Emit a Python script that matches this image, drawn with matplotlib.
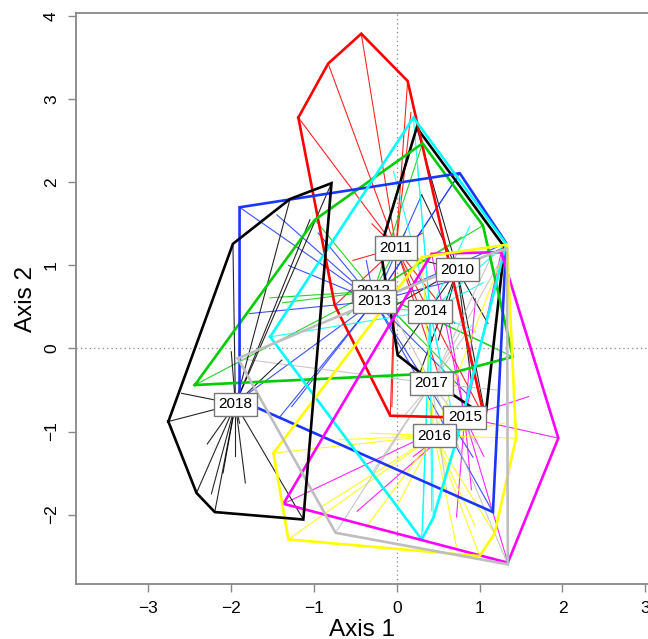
import numpy as np
import matplotlib
matplotlib.use("Agg")
import matplotlib.pyplot as plt

plt.rcParams['font.family'] = ['Liberation Sans', 'DejaVu Sans']

# class labels, colours and centroid (label) positions
years = ["2010", "2011", "2012", "2013", "2014", "2015", "2016", "2017", "2018"]
colors = ["black", "#FF0000", "#00CD00", "#1A35FF", "#00FFFF", "#FF00FF", "#FFFF00", "#BEBEBE", "black"]
cent_x = [0.73, -0.01, -0.28, -0.27, 0.40, 0.82, 0.45, 0.42, -1.95]
cent_y = [0.95, 1.21, 0.69, 0.57, 0.45, -0.83, -1.05, -0.42, -0.67]

# site scores per year (x, y)
pts_2010 = [(0.24, 2.66), (-0.2, 1.2), (0.01, -0.08), (0.28, -0.29), (1.07, -0.82), (1.30, 1.22),
            (0.30, 1.85), (-0.05, 0.5), (0.9, -0.4), (1.1, 0.3), (0.5, 0.1)]
pts_2011 = [(-1.19, 2.78), (-0.75, 0.52), (-0.08, -0.81), (1.06, -0.84), (0.13, 3.22), (-0.43, 3.79),
            (-0.83, 3.43), (0.17, 2.84), (-0.53, 1.06), (0.43, 0.10), (0.31, 1.39), (-0.06, -0.70),
            (0.5, -0.3), (0.7, 0.3), (-0.3, 1.5)]
pts_2012 = [(-2.44, -0.44), (0.31, 2.47), (1.04, 1.48), (1.40, -0.10), (0.68, -0.29),
            (-1.53, 0.61), (-1.38, 0.55), (-0.99, 1.55), (1.16, 0.02), (0.78, 1.34), (0.1, 1.4),
            (-0.6, 0.4), (0.2, 0.2)]
pts_2013 = [(-1.90, 1.70), (0.76, 2.11), (1.32, 1.27), (1.16, -1.97), (-1.90, -0.62),
            (-1.45, 1.61), (-1.78, 0.42), (-1.31, 1.0), (-0.95, 1.39), (-1.41, -0.82), (-1.27, -0.70),
            (0.30, 1.85), (0.72, 2.05), (0.92, -1.31), (-0.37, 1.06), (0.84, -0.54), (1.0, 0.9)]
pts_2014 = [(-1.53, 0.14), (0.20, 2.78), (1.32, 1.26), (0.95, 0.2), (0.73, -1.07), (0.44, -2.04),
            (0.30, -2.30), (-0.04, 2.13), (0.88, 1.47), (1.04, 0.79), (0.31, -2.19), (0.42, -1.95),
            (-0.5, 0.5), (0.6, -0.5), (0.25, 2.2)]
pts_2015 = [(-1.37, -1.87), (0.42, 1.14), (1.26, 1.16), (1.95, -1.08), (1.34, -2.58),
            (1.59, -0.58), (-0.48, -1.96), (0.72, -2.03), (0.90, -1.70), (1.05, -1.3), (0.6, 0.5),
            (0.95, 0.6), (0.2, -1.3)]
pts_2016 = [(-1.49, -1.26), (0.30, 1.10), (1.33, 1.25), (1.44, -1.08), (1.18, -2.23), (1.00, -2.50),
            (-1.31, -2.30), (-0.31, -1.02), (-0.37, -2.15), (0.72, -2.39), (0.94, -2.13),
            (-0.9, -1.9), (0.0, -1.9), (1.3, -0.9), (0.3, -0.2), (-0.7, -1.1)]
pts_2017 = [(-1.92, -0.12), (-0.15, 0.62), (1.33, 1.20), (1.34, -2.60), (-0.74, -2.22),
            (0.99, -1.18), (1.16, 1.15), (0.92, 0.3), (0.1, -0.8), (-0.3, -1.5), (0.6, -1.7), (1.2, -0.5)]
pts_2018 = [(-0.79, 1.99), (-1.29, 1.80), (-1.98, 1.26), (-2.76, -0.88), (-2.42, -1.74), (-2.20, -1.97),
            (-1.13, -2.06), (-2.0, -0.04), (-1.39, -0.14), (-2.60, -0.54), (-2.29, -1.15),
            (-2.24, -1.75), (-1.83, -1.62), (-1.90, -0.90), (-1.05, 1.55), (-2.1, -1.5), (-1.95, -1.3)]

groups = [pts_2010, pts_2011, pts_2012, pts_2013, pts_2014, pts_2015, pts_2016, pts_2017, pts_2018]


def convex_hull(points):
    # monotone chain
    pts = sorted(set(points))
    if len(pts) < 3:
        return pts

    def cross(o, a, b):
        return (a[0] - o[0]) * (b[1] - o[1]) - (a[1] - o[1]) * (b[0] - o[0])

    lower = []
    for p in pts:
        while len(lower) >= 2 and cross(lower[-2], lower[-1], p) <= 0:
            lower.pop()
        lower.append(p)
    upper = []
    for p in reversed(pts):
        while len(upper) >= 2 and cross(upper[-2], upper[-1], p) <= 0:
            upper.pop()
        upper.append(p)
    return lower[:-1] + upper[:-1]


fig = plt.figure(figsize=(6.48, 6.39), dpi=100)
ax = fig.add_axes([0.1167, 0.0856, 0.8833, 0.8936])
ax.set_xlim(-3.88, 3.033)
ax.set_ylim(-2.84, 4.036)

ax.axhline(0, color="#888888", lw=0.9, ls=(0, (1, 2.5)), zorder=1)
ax.axvline(0, color="#888888", lw=0.9, ls=(0, (1, 2.5)), zorder=1)

# star lines
for pts, cx, cy, col in zip(groups, cent_x, cent_y, colors):
    for x, y in pts:
        ax.plot([cx, x], [cy, y], color=col, lw=0.8, alpha=0.85, zorder=2)

# convex hulls
for pts, col in zip(groups, colors):
    h = convex_hull(pts)
    hx = [p[0] for p in h] + [h[0][0]]
    hy = [p[1] for p in h] + [h[0][1]]
    ax.plot(hx, hy, color=col, lw=1.9, zorder=3, solid_joinstyle="miter")

# labels
for yr, cx, cy in zip(years, cent_x, cent_y):
    ax.text(cx, cy, yr, ha="center", va="center", fontsize=11, zorder=5,
            bbox=dict(boxstyle="square,pad=0.3", fc="white", ec="#777777", lw=1.0))

for s in ["left", "bottom", "top"]:
    ax.spines[s].set_color("#888888")
    ax.spines[s].set_linewidth(1.3)
ax.spines["right"].set_visible(False)

ax.set_xticks([-3, -2, -1, 0, 1, 2, 3])
ax.set_yticks([-2, -1, 0, 1, 2, 3, 4])
ax.tick_params(direction="out", length=6, width=1, color="#888888", labelsize=12.5, pad=6)
for lab in ax.get_yticklabels():
    lab.set_rotation(90)
    lab.set_va("center")

ax.set_xlabel("Axis 1", fontsize=17.5, labelpad=2)
ax.set_ylabel("Axis 2", fontsize=17.5, labelpad=5)

fig.savefig("out.png", dpi=100)
